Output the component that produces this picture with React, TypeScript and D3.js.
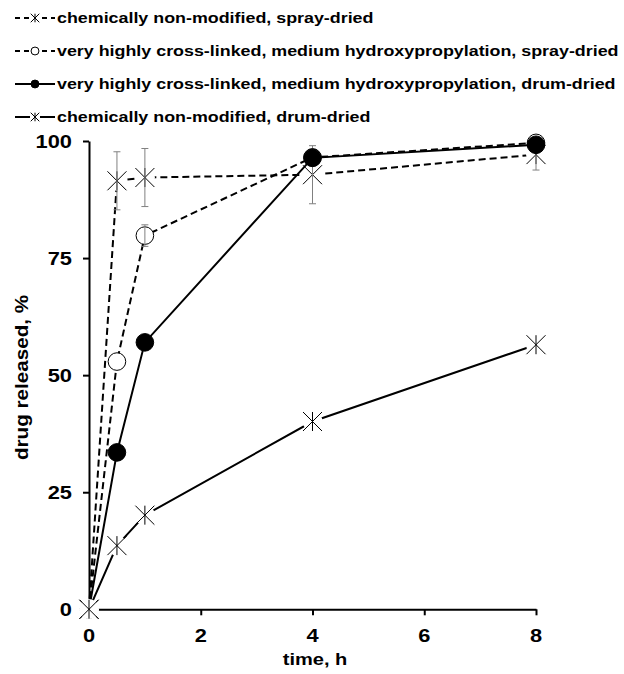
import React, {useRef, useEffect} from 'react';
import * as d3 from 'd3';

const width = 624;
const height = 674;
const font = 'Liberation Sans, Arial, sans-serif';
// the source picture is stretched, so the text is too
const stretch = 1.18;

const times = [0, 0.5, 1, 4, 8];
const seriesNames = [
  'chemically non-modified, spray-dried',
  'very highly cross-linked, medium hydroxypropylation, spray-dried',
  'very highly cross-linked, medium hydroxypropylation, drum-dried',
  'chemically non-modified, drum-dried',
];
const sprayNative = [0, 91.5, 92.2, 92.8, 97.1];
const sprayNativeErr = [0, 6.2, 6.2, 6.2, 3.3];
const sprayModified = [0, 52.9, 79.8, 96.5, 99.6];
const sprayModifiedErr = [0, 0, 2.3, 0, 0];
const drumModified = [0, 33.5, 57.0, 96.4, 99.2];
const drumModifiedErr = [0, 0, 0, 0, 0];
const drumNative = [0, 13.6, 20.1, 40.1, 56.5];
const drumNativeErr = [0, 0, 0, 0, 0];

const xTicks = [0, 2, 4, 6, 8];
const yTicks = [0, 25, 50, 75, 100];

type Marker = 'star' | 'open' | 'filled';
const series = [
  {name: seriesNames[0], values: sprayNative, err: sprayNativeErr, marker: 'star' as Marker, dashed: true},
  {name: seriesNames[1], values: sprayModified, err: sprayModifiedErr, marker: 'open' as Marker, dashed: true},
  {name: seriesNames[2], values: drumModified, err: drumModifiedErr, marker: 'filled' as Marker, dashed: false},
  {name: seriesNames[3], values: drumNative, err: drumNativeErr, marker: 'star' as Marker, dashed: false},
];

const drawMarker = (g: any, kind: Marker, cx: number, cy: number, size: number) => {
  if (kind === 'star') {
    // white fill behind the star, like the Excel marker
    g.append('circle').attr('cx', cx).attr('cy', cy).attr('r', size).attr('fill', 'white');
    const d = size * 0.95;
    const p = d3.path();
    p.moveTo(cx - d, cy - d);
    p.lineTo(cx + d, cy + d);
    p.moveTo(cx - d, cy + d);
    p.lineTo(cx + d, cy - d);
    p.moveTo(cx, cy - d);
    p.lineTo(cx, cy + d);
    g.append('path').attr('d', p.toString()).attr('stroke', 'black').attr('stroke-width', 1).attr('fill', 'none');
  } else {
    g.append('circle')
    .attr('cx', cx)
    .attr('cy', cy)
    .attr('r', size * 0.88)
    .attr('fill', kind === 'filled' ? 'black' : 'white')
    .attr('stroke', 'black')
    .attr('stroke-width', 1);
  }
};

const addText = (g: any, str: string, x: number, y: number, size: number, anchor = 'start', rotate = 0) =>
  g
  .append('text')
  .attr(
    'transform',
    rotate
      ? `translate(${x},${y}) scale(1,${stretch}) rotate(${rotate})`
      : `translate(${x},${y}) scale(${stretch},1)`,
  )
  .attr('text-anchor', anchor)
  .attr('font-family', font)
  .attr('font-weight', 'bold')
  .attr('font-size', size)
  .attr('fill', 'black')
  .text(str);

const setupChart = (container: SVGSVGElement) => {
  const svg = d3.select(container);
  svg.selectAll('*').remove();

  const x = d3.scaleLinear().domain([0, 8]).range([89, 536]);
  const y = d3.scaleLinear().domain([0, 100]).range([609.3, 141]);

  // legend
  const legend = svg.append('g');
  series.forEach((s, i) => {
    const cy = 18 + i * 33;
    const row = legend.append('g');
    row.append('line')
    .attr('x1', 15)
    .attr('x2', 55)
    .attr('y1', cy)
    .attr('y2', cy)
    .attr('stroke', 'black')
    .attr('stroke-width', 2)
    .attr('stroke-dasharray', s.dashed ? '5,4' : null);
    if (s.marker === 'star') {
      row.append('rect').attr('x', 30).attr('y', cy - 5).attr('width', 10).attr('height', 10).attr('fill', 'white');
    }
    drawMarker(row, s.marker, 35, cy, 4.5);
    addText(row, s.name, 57, cy + 5.3, 15.15);
  });

  // axes
  const yAxis = svg
  .append('g')
  .attr('transform', `translate(${x(0)},0)`)
  .call(d3.axisLeft(y).tickValues(yTicks).tickSize(6).tickSizeOuter(0).tickFormat(() => ''));
  const xAxis = svg
  .append('g')
  .attr('transform', `translate(0,${y(0)})`)
  .call(d3.axisBottom(x).tickValues(xTicks).tickSize(6).tickSizeOuter(0).tickFormat(() => ''));
  [yAxis, xAxis].forEach(a => {
    a.selectAll('path, line').attr('stroke', 'black').attr('stroke-width', 2);
  });

  const labels = svg.append('g');
  yTicks.forEach(t => addText(labels, String(t), 72, y(t) + 6.6, 18.5, 'end'));
  xTicks.forEach(t => addText(labels, String(t), x(t), 641.7, 18.5, 'middle'));

  addText(svg, 'time, h', 315, 665, 17, 'middle');
  addText(svg, 'drug released, %', 28, 377.5, 17.5, 'middle', -90);

  const line = d3
  .line<number>()
  .x((_, i) => x(times[i]))
  .y(v => y(v));

  series.forEach(s => {
    svg.append('path')
    .attr('d', line(s.values))
    .attr('fill', 'none')
    .attr('stroke', 'black')
    .attr('stroke-width', 2)
    .attr('stroke-dasharray', s.dashed ? '7,4' : null);
  });

  series.forEach(s => {
    const g = svg.append('g');
    s.values.forEach((v, i) => drawMarker(g, s.marker, x(times[i]), y(v), 10));
    s.values.forEach((v, i) => {
      const e = s.err[i];
      if (!e) return;
      const cx = x(times[i]);
      const p = d3.path();
      p.moveTo(cx, y(v + e));
      p.lineTo(cx, y(v - e));
      p.moveTo(cx - 3.5, y(v + e));
      p.lineTo(cx + 3.5, y(v + e));
      p.moveTo(cx - 3.5, y(v - e));
      p.lineTo(cx + 3.5, y(v - e));
      g.append('path').attr('d', p.toString()).attr('stroke', '#808080').attr('stroke-width', 1).attr('fill', 'none');
    });
  });
};

export default function App() {
  const svgRef = useRef<SVGSVGElement>(null);
  useEffect(() => {
    if (svgRef.current) {
      setupChart(svgRef.current);
    }
  }, []);
  return (
    <svg
      ref={svgRef}
      width={width}
      height={height}
      style={{position: 'absolute', left: 0, top: 0, background: 'white'}}
    />
  );
}
